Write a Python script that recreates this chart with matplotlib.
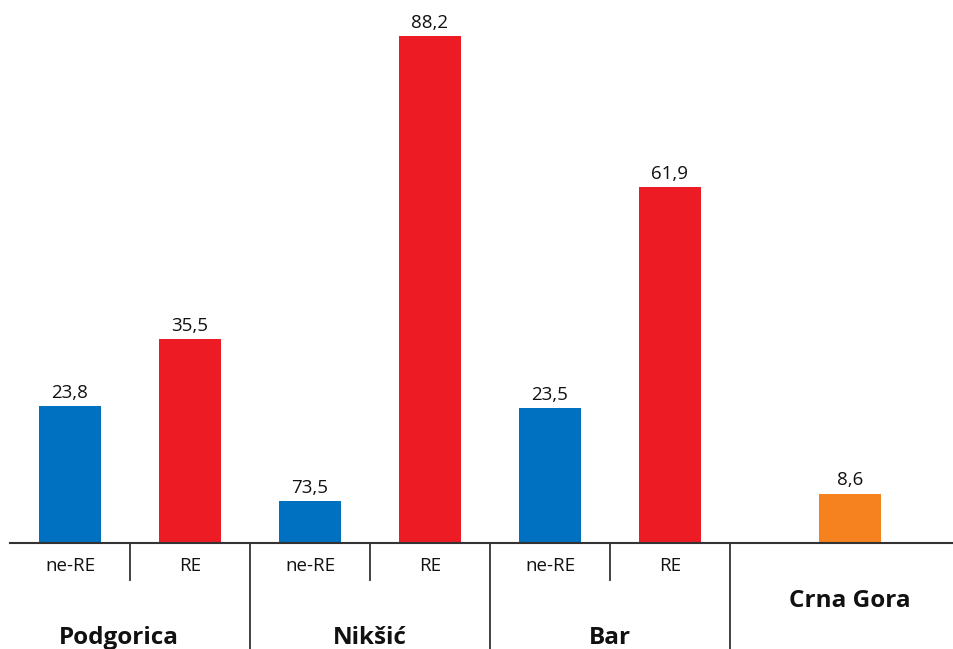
import matplotlib.pyplot as plt
import matplotlib.transforms as mtransforms

plt.rcParams['font.family'] = ['Open Sans', 'DejaVu Sans']

groups = ['Podgorica', 'Nikšić', 'Bar']
subcats = ['ne-RE', 'RE']
# bar heights per group (ne-RE, RE)
group_values = [[23.8, 35.5], [7.35, 88.2], [23.5, 61.9]]
# labels as printed on the chart
group_labels = [['23,8', '35,5'], ['73,5', '88,2'], ['23,5', '61,9']]
total_name = 'Crna Gora'
total_value = 8.6
total_label = '8,6'

blue = '#0070c0'
red = '#ed1c24'
orange = '#f5821f'
line_col = '#333333'

W, H = 954, 649
fig = plt.figure(figsize=(W / 100, H / 100), dpi=100)
# axes from x=10px to the right edge, baseline at 543px from the top
ax = fig.add_axes([10 / W, 106 / H, 1 - 10 / W, 543 / H])
slot = 120.0
ax.set_xlim(0, (W - 10) / slot)
ax.set_ylim(0, 543 / 5.75)

for s in ['top', 'right', 'left']:
    ax.spines[s].set_visible(False)
ax.spines['bottom'].set_color(line_col)
ax.spines['bottom'].set_linewidth(1.5)
ax.set_xticks([])
ax.set_yticks([])

trans = mtransforms.blended_transform_factory(ax.transData, ax.transAxes)
bar_w = 0.51

for gi, (g, vals, labs) in enumerate(zip(groups, group_values, group_labels)):
    for si, (sc, v, lab) in enumerate(zip(subcats, vals, labs)):
        x = gi * 2 + si + 0.5
        ax.bar(x, v, width=bar_w, color=[blue, red][si], zorder=2)
        ax.annotate(lab, (x, v), xytext=(0, 3), textcoords='offset points',
                    ha='center', va='bottom', fontsize=13.5, color='#111111')
        ax.text(x, -23 / 543, sc, transform=trans, ha='center', va='center',
                fontsize=13.5, color='#111111')
    # small divider between subcategories
    ax.plot([gi * 2 + 1] * 2, [0, -37 / 543], transform=trans, color=line_col,
            lw=1.3, clip_on=False)
    # big divider after group
    ax.plot([gi * 2 + 2] * 2, [0, -106 / 543], transform=trans, color=line_col,
            lw=1.3, clip_on=False)
    gx = gi * 2 + 1 - (0.09 if gi == 0 else 0)
    ax.text(gx, -95 / 543, g, transform=trans, ha='center', va='center',
            fontsize=17.5, fontweight='bold', color='#111111')

xt = len(groups) * 2 + 1
ax.bar(xt, total_value, width=bar_w, color=orange, zorder=2)
ax.annotate(total_label, (xt, total_value), xytext=(0, 3), textcoords='offset points',
            ha='center', va='bottom', fontsize=13.5, color='#111111')
ax.text(xt, -58 / 543, total_name, transform=trans, ha='center', va='center',
        fontsize=17.5, fontweight='bold', color='#111111')

fig.savefig('out.png', dpi=100)
